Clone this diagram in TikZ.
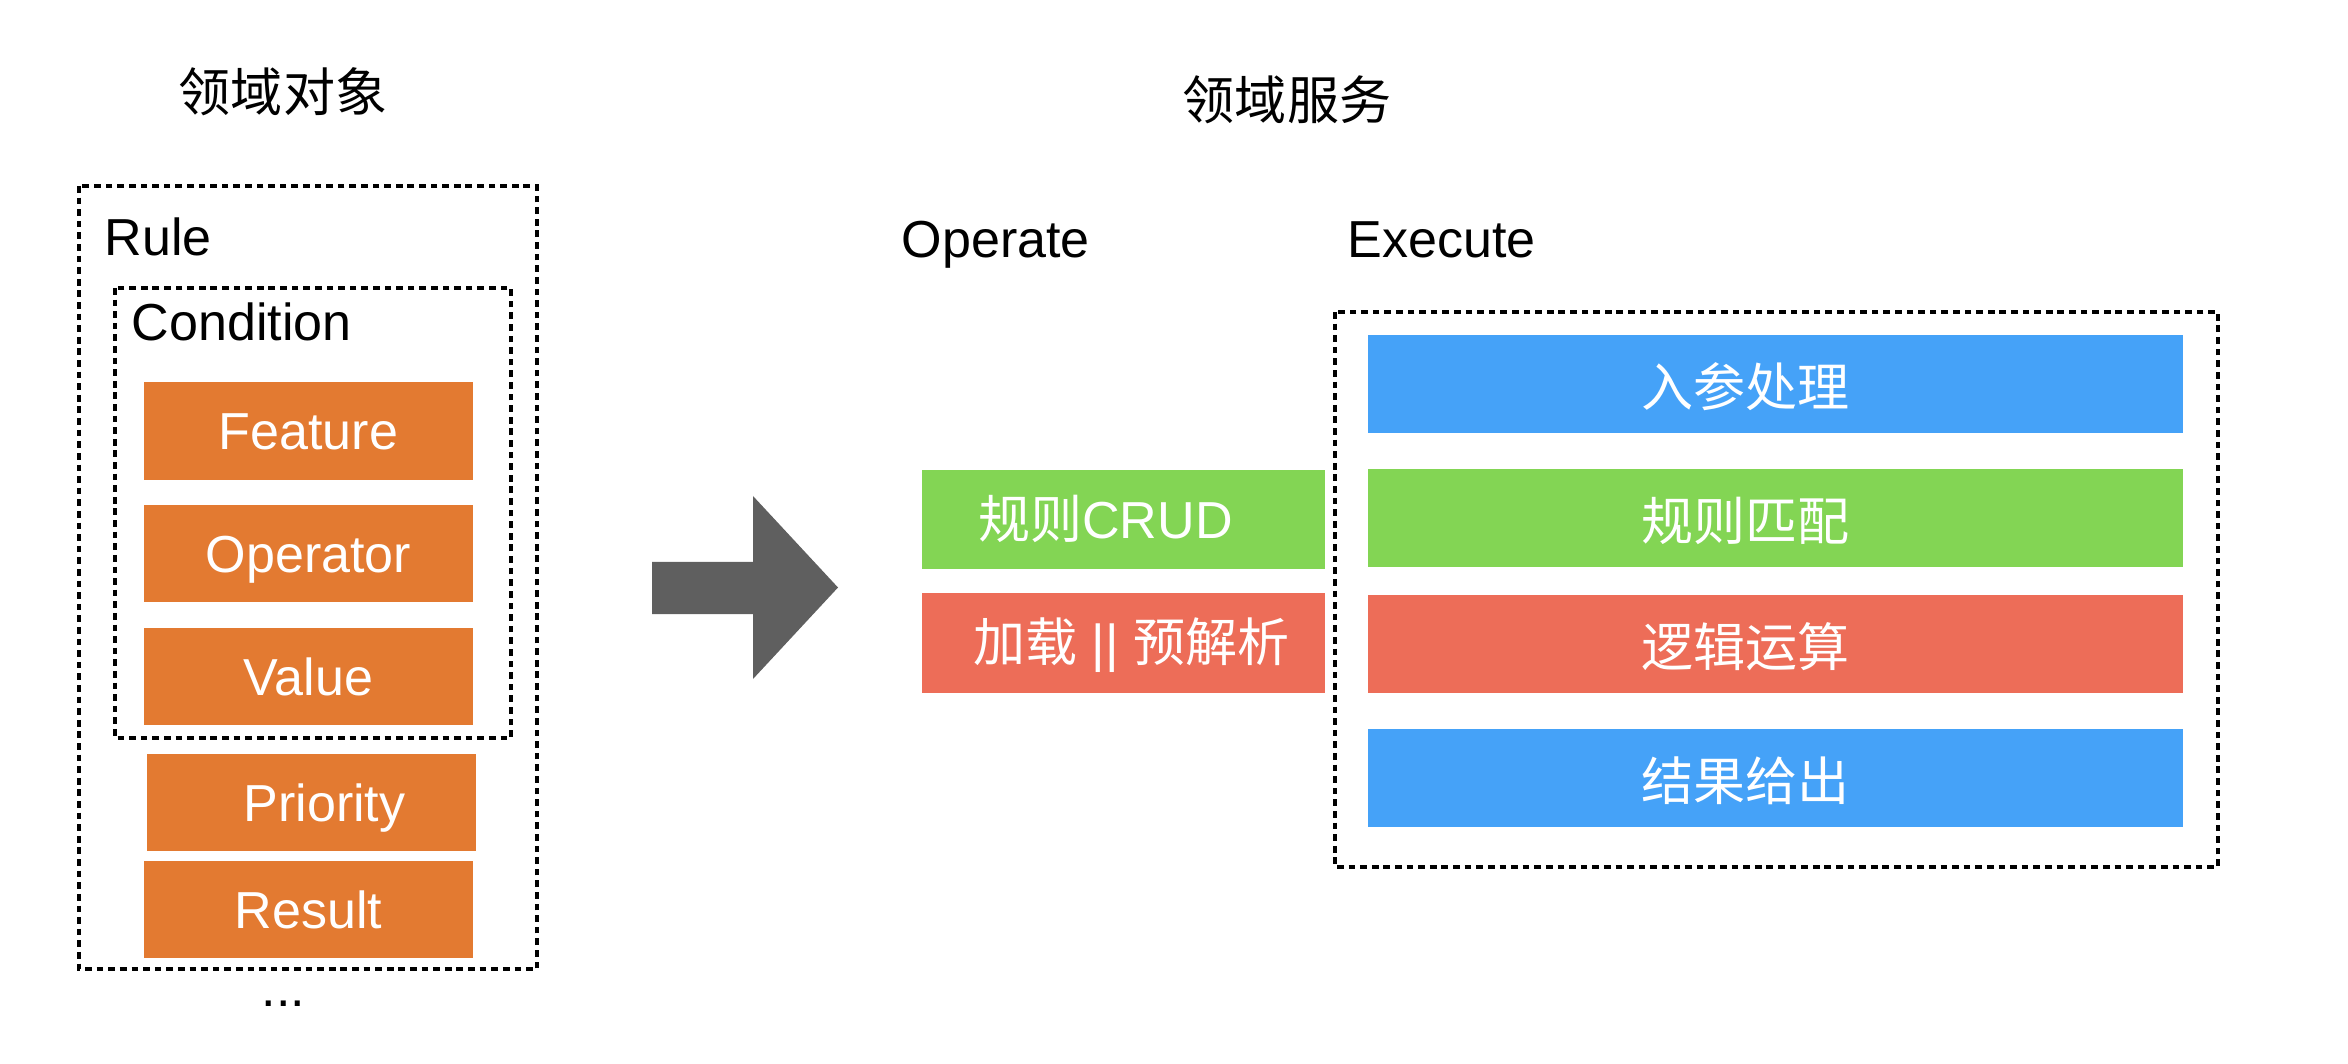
\documentclass[tikz,border=0pt]{standalone}
\usepackage{fontspec}
\setmainfont{Liberation Sans}
\newfontfamily\cjk{Noto Sans CJK SC}

\definecolor{attrorange}{HTML}{E37A31}
\definecolor{opgreen}{HTML}{83D554}
\definecolor{opred}{HTML}{ED6D58}
\definecolor{exblue}{HTML}{45A2F8}
\definecolor{arrowgray}{HTML}{5F5F5F}

\tikzset{
  frame/.style={draw=black, line width=1pt, dash pattern=on 1.9pt off 1.4pt},
  title/.style={inner sep=0pt, font=\fontsize{14.8}{17}\selectfont},
  filled/.style={rectangle, fill=#1, text=white, inner sep=0pt,
    text height=10.6pt, text depth=0pt, font=\fontsize{14.8}{17}\selectfont},
  attr/.style={filled=attrorange, minimum width=3.29cm, minimum height=0.97cm},
  opbox/.style={filled=#1, minimum width=4.03cm, minimum height=0.99cm},
  exbox/.style={filled=#1, text height=13pt, minimum width=8.15cm, minimum height=0.97cm}
}

\begin{document}
\begin{tikzpicture}[x=0.01cm, y=-0.01cm]
    \useasboundingbox (0,0) rectangle (2348,1064);

    % Domain objects
    \node[title] (objtitle) at (283,92) {\cjk 领域对象};
    \draw[frame] (79,186) rectangle (537,969);
    \node[title, anchor=base west] (rule) at (104,256) {Rule};
    \draw[frame] (115,288) rectangle (511,738);
    \node[title, anchor=base west] (cond) at (131,341) {Condition};

    \node[attr] (feature) at (308.5,431) {Feature};
    \node[attr] (operator) at (308.5,553.5) {Operator};
    \node[attr] (value) at (308.5,676.5) {Value};
    \node[attr] (priority) at (311.5,802.5) {\hspace*{0.26cm}Priority};
    \node[attr] (result) at (308.5,909.5) {Result};
    \node[title, anchor=base] (more) at (283.5,1006) {...};

    % Big arrow
    \fill[arrowgray] (652,562) -- (753,562) -- (753,496) -- (838,587.5)
        -- (753,679) -- (753,614) -- (652,614) -- cycle;

    % Domain services
    \node[title] (srvtitle) at (1287,100) {\cjk 领域服务};
    \node[title, anchor=base west] (operate) at (901,258) {Operate};
    \node[title, anchor=base west] (execute) at (1347,258) {Execute};

    \node[opbox=opgreen] (crud) at (1123.5,519.5) {{\cjk 规则}CRUD\hspace*{0.36cm}};
    \node[opbox=opred] (load) at (1123.5,643) {\hspace*{0.16cm}{\cjk 加载} || {\cjk 预解析}};

    % Execute steps
    \draw[frame] (1335,312) rectangle (2218,867);
    \node[exbox=exblue] (input) at (1775.5,384) {\cjk 入参处理\hspace*{0.6cm}};
    \node[exbox=opgreen] (match) at (1775.5,518) {\cjk 规则匹配\hspace*{0.6cm}};
    \node[exbox=opred] (logic) at (1775.5,644) {\cjk 逻辑运算\hspace*{0.6cm}};
    \node[exbox=exblue] (output) at (1775.5,778) {\cjk 结果给出\hspace*{0.6cm}};
\end{tikzpicture}
\end{document}
